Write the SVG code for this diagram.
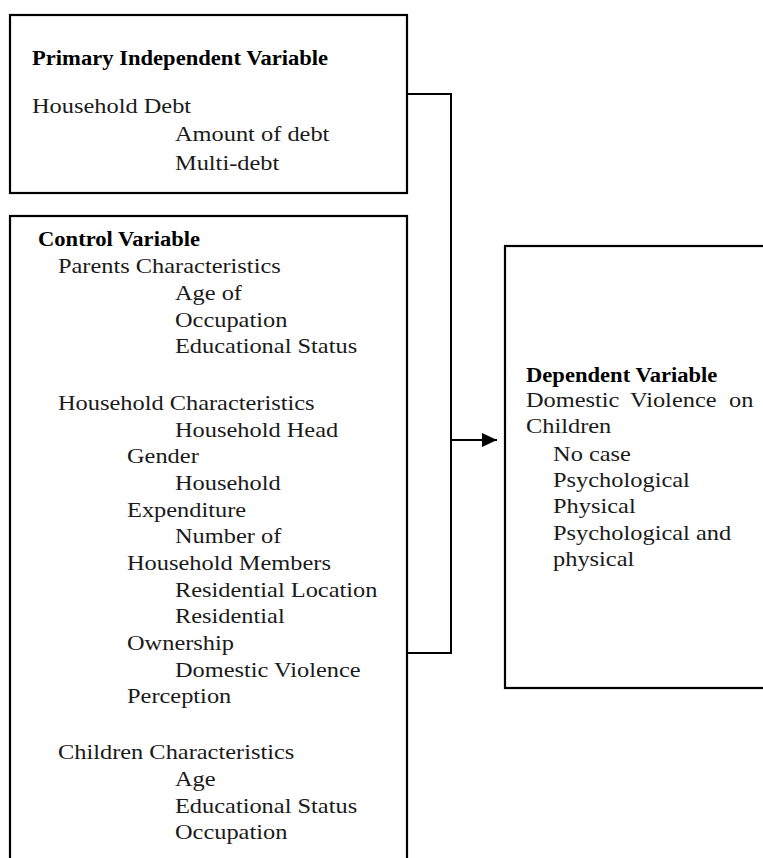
<svg xmlns="http://www.w3.org/2000/svg" width="763" height="858" viewBox="0 0 763 858">
<style>
.box{fill:#fff;stroke:#000;stroke-width:2.2}
.t{font-family:'Liberation Serif',serif;font-size:20px;fill:#1a1a1a}
.b{font-family:'Liberation Serif',serif;font-size:20px;font-weight:bold;fill:#000}
.c{fill:none;stroke:#000;stroke-width:2}
</style>
<defs>
<marker id="ah" markerUnits="userSpaceOnUse" markerWidth="15" markerHeight="14" refX="15" refY="7" orient="auto">
<path d="M0,0 L15,7 L0,14 z" fill="#000"/>
</marker>
</defs>
<rect width="763" height="858" fill="#fff"/>
<g id="connectors">
<polyline class="c" points="407,94 451,94 451,653 405,653"/>
<line class="c" x1="451" y1="440" x2="497" y2="440" marker-end="url(#ah)"/>
</g>
<g id="primary-independent">
<rect class="box" x="10" y="15" width="397" height="178"/>
<g transform="scale(1.13 1)"><text class="b" x="28.3" y="65">Primary Independent Variable</text></g>
<g transform="scale(1.22 1)">
<text class="t" x="26.2" y="113">Household Debt</text>
<text class="t" x="143.4" y="141.5">Amount of debt</text>
<text class="t" x="143.4" y="170">Multi-debt</text>
</g>
</g>
<g id="control">
<rect class="box" x="10" y="216" width="397" height="700"/>
<g transform="scale(1.13 1)"><text class="b" x="33.6" y="246">Control Variable</text></g>
<g transform="scale(1.22 1)">
<text class="t" x="47.5" y="273">Parents Characteristics</text>
<text class="t" x="143.4" y="300">Age of</text>
<text class="t" x="143.4" y="327">Occupation</text>
<text class="t" x="143.4" y="353">Educational Status</text>
<text class="t" x="47.5" y="410">Household Characteristics</text>
<text class="t" x="143.4" y="437">Household Head</text>
<text class="t" x="104.1" y="463">Gender</text>
<text class="t" x="143.4" y="490">Household</text>
<text class="t" x="104.1" y="517">Expenditure</text>
<text class="t" x="143.4" y="543">Number of</text>
<text class="t" x="104.1" y="570">Household Members</text>
<text class="t" x="143.4" y="597">Residential Location</text>
<text class="t" x="143.4" y="623">Residential</text>
<text class="t" x="104.1" y="650">Ownership</text>
<text class="t" x="143.4" y="677">Domestic Violence</text>
<text class="t" x="104.1" y="703">Perception</text>
<text class="t" x="47.5" y="759">Children Characteristics</text>
<text class="t" x="143.4" y="786">Age</text>
<text class="t" x="143.4" y="813">Educational Status</text>
<text class="t" x="143.4" y="839">Occupation</text>
</g>
</g>
<g id="dependent">
<rect class="box" x="505" y="246" width="300" height="442"/>
<g transform="scale(1.13 1)"><text class="b" x="465.5" y="382">Dependent Variable</text></g>
<g transform="scale(1.22 1)">
<text class="t" y="407"><tspan x="431.1">Domestic</tspan><tspan x="516.4">Violence</tspan><tspan x="597.5">on</tspan></text>
<text class="t" x="431.1" y="433">Children</text>
<text class="t" x="453.3" y="461">No case</text>
<text class="t" x="453.3" y="487">Psychological</text>
<text class="t" x="453.3" y="513">Physical</text>
<text class="t" x="453.3" y="540">Psychological and</text>
<text class="t" x="453.3" y="566">physical</text>
</g>
</g>
</svg>
